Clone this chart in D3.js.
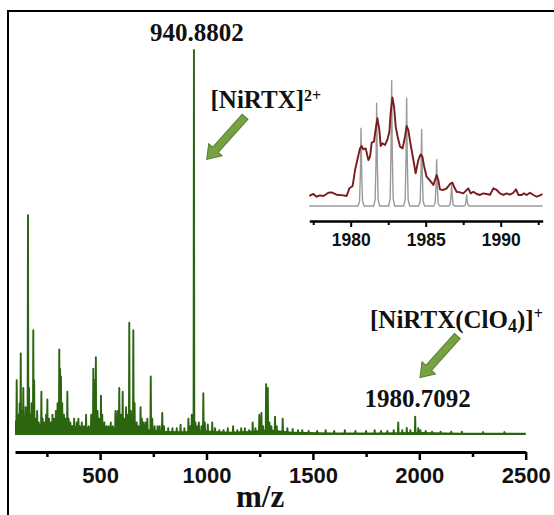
<!DOCTYPE html>
<html>
<head>
<meta charset="utf-8">
<script src="https://cdn.jsdelivr.net/npm/d3@7"></script>
<style>
  body { margin: 0; background: #fff; }
  svg { display: block; }
  .tk text { font-family: "Liberation Sans", Arial, sans-serif; font-weight: bold; fill: #111; }
  .lbl { font-family: "Liberation Serif", "Times New Roman", serif; font-weight: bold; fill: #111; }
</style>
</head>
<body>
<div id="chart"></div>
<script>
// main spectrum peaks (m/z, relative intensity %)
var peakMz  = [108, 116, 122, 127, 133, 139, 145, 150, 161, 166, 172, 178, 186, 190, 196, 204, 212, 224, 230, 238,
               246, 252, 260, 268, 276, 284, 292, 300, 308, 312, 316, 322, 330, 337, 346, 352, 360, 370, 378, 390,
               398, 404, 414, 424, 434, 446, 458, 468, 474, 480, 488, 494, 504, 510, 520, 530, 540, 550, 560, 572,
               582, 590, 598, 606, 614, 622, 630, 637, 645, 656, 662, 672, 680, 690, 696, 704, 714, 722, 738, 745,
               756, 770, 780, 792, 800, 820, 840, 860, 878, 896, 915, 924, 931, 940.88, 948, 956, 964, 976, 985, 992,
               1006, 1027, 1040, 1060, 1080, 1100, 1125, 1145, 1163, 1180, 1200, 1217, 1230, 1248, 1258, 1266, 1280, 1288, 1296, 1305,
               1322, 1330, 1358, 1380, 1405, 1430, 1450, 1480, 1520, 1560, 1600, 1650, 1700, 1750, 1790, 1820, 1850, 1880, 1901, 1920,
               1941, 1958, 1980.71, 1995, 2005, 2030, 2060, 2100, 2150, 2200, 2300, 2400];
var peakInt = [14, 5, 8, 21, 6, 12, 4, 7, 57, 12, 5, 8, 27, 14, 4, 6, 3, 11, 4, 3,
               5, 9, 4, 3, 5, 4, 6, 8, 22, 17, 15, 8, 5, 4, 11, 4, 3, 2, 4, 3,
               4, 2, 3, 2, 5, 2, 5, 17, 14, 20, 6, 4, 10, 5, 3, 2, 2, 3, 2, 6,
               6, 12, 5, 11, 4, 7, 5, 29, 6, 27, 8, 3, 2, 7, 4, 3, 3, 4, 15, 4,
               2, 2, 2, 5.5, 2, 1.5, 1.5, 1.5, 2.4, 1.5, 4, 2, 5, 100, 3, 2, 3, 2, 10.6, 3,
               2.5, 3, 1.5, 1, 1, 1.5, 2, 1, 1.5, 1.5, 1, 3, 1.5, 5, 5.5, 2, 13, 12, 3, 2,
               4.5, 2, 4, 1.5, 1.3, 1, 1, 0.8, 0.8, 1, 0.8, 1, 0.8, 0.8, 1, 0.8, 0.8, 1, 3, 1,
               1.6, 1, 4.5, 1.5, 1, 0.8, 0.6, 0.6, 0.6, 0.6, 0.5, 0.5];
// noise floor under the spectrum
var floorMz  = [100, 150, 200, 260, 320, 380, 440, 500, 560, 620, 680, 740, 800, 900, 1000, 1100, 1200, 1300, 1400, 1600, 1800, 2000, 2200, 2500];
var floorInt = [3.5, 3, 2.5, 2.2, 3, 2, 1.8, 2.5, 1.5, 2, 1.5, 1.2, 0.8, 0.7, 0.9, 0.6, 0.8, 1.2, 0.6, 0.4, 0.4, 0.5, 0.3, 0.3];

// inset: simulated isotope pattern (grey) and experimental (red)
var isoMz  = [1980.69, 1981.73, 1982.73, 1983.73, 1984.73, 1985.73, 1986.73, 1987.73];
var isoInt = [62, 82, 100, 86, 61, 37, 18, 9];
var expMz  = [1977.24, 1977.51, 1977.73, 1977.95, 1978.18, 1978.51, 1978.73, 1979.06, 1979.51, 1979.73, 1979.91, 1980.13,
              1980.29, 1980.44, 1980.62, 1980.73, 1980.84, 1981.00, 1981.18, 1981.29, 1981.40, 1981.55, 1981.69, 1981.78,
              1981.91, 1982.00, 1982.11, 1982.29, 1982.44, 1982.58, 1982.66, 1982.78, 1982.89, 1983.00, 1983.13, 1983.29,
              1983.46, 1983.62, 1983.73, 1983.84, 1984.00, 1984.18, 1984.33, 1984.51, 1984.66, 1984.78, 1984.89, 1985.06,
              1985.29, 1985.51, 1985.73, 1985.84, 1985.95, 1986.18, 1986.40, 1986.62, 1986.78, 1986.89, 1987.06, 1987.29,
              1987.51, 1987.84, 1988.00, 1988.18, 1988.40, 1988.62, 1988.84, 1989.06, 1989.29, 1989.51, 1989.73, 1989.95,
              1990.18, 1990.40, 1990.62, 1990.84, 1991.02, 1991.18, 1991.40, 1991.55, 1991.73, 1991.95, 1992.18, 1992.40,
              1992.62, 1992.78];
var expInt = [8.0, 9.6, 7.4, 8.5, 8.0, 10.6, 10.9, 9.0, 8.5, 8.0, 14.1, 16.0,
              28.7, 36.7, 46.0, 47.9, 45.2, 46.0, 36.7, 39.4, 50.5, 51.3, 63.3, 70.0,
              60.7, 47.9, 50.0, 48.7, 52.7, 59.3, 74.0, 86.7, 79.3, 63.3, 55.3, 47.4,
              46.0, 55.3, 63.8, 60.7, 48.7, 36.7, 26.1, 36.7, 41.2, 39.4, 31.9, 23.4,
              20.2, 16.8, 24.7, 20.8, 13.3, 12.8, 14.1, 17.6, 18.6, 15.4, 11.4, 10.9,
              10.1, 14.1, 10.1, 11.4, 9.6, 8.8, 10.1, 9.6, 9.0, 14.1, 12.8, 10.1,
              8.8, 10.1, 9.0, 10.6, 13.3, 8.8, 8.8, 10.1, 8.8, 10.6, 8.8, 7.4,
              8.5, 9.6];

var mainTicks = [500, 1000, 1500, 2000, 2500];
var mainMinor = [250, 750, 1250, 1750, 2250];
var insetTicks = [1980, 1985, 1990];
var insetMinor = [1977.5, 1982.5, 1987.5, 1992.5];

var W = 554, H = 515;
var svg = d3.select("#chart").append("svg").attr("width", W).attr("height", H);

// frame (right and bottom edges fall outside the picture)
svg.append("rect").attr("x", 8).attr("y", 11).attr("width", 700).attr("height", 700)
   .attr("fill", "none").attr("stroke", "#000").attr("stroke-width", 2);

var x = d3.scaleLinear().domain([100, 2500]).range([15, 525.7]);
var y = d3.scaleLinear().domain([0, 100]).range([434, 50]);

var green = "#2b6510";

// noise floor
svg.append("path")
   .datum(floorMz.map(function(m, i) { return [m, floorInt[i]]; }))
   .attr("fill", green)
   .attr("d", d3.area().x(function(d) { return x(d[0]); }).y0(y(0)).y1(function(d) { return y(d[1]); }));

// spectrum as one line, each peak a narrow spike
var pts = [[100, 0]];
peakMz.forEach(function(m, i) {
    pts.push([m - 1.8, 0], [m, peakInt[i]], [m + 1.8, 0]);
});
pts.push([2500, 0]);
svg.append("path").datum(pts)
   .attr("fill", "none").attr("stroke", green).attr("stroke-width", 1.9).attr("stroke-linejoin", "round")
   .attr("d", d3.line().x(function(d) { return x(d[0]); }).y(function(d) { return y(d[1]); }));

// main x axis
var axY = 452;
var ax = svg.append("g").attr("class", "tk").attr("transform", "translate(0," + axY + ")")
   .call(d3.axisBottom(x).tickValues(mainTicks).tickFormat(d3.format("d")).tickSize(8).tickSizeOuter(0).tickPadding(7));
ax.select(".domain").attr("stroke-width", 3);
ax.selectAll(".tick line").attr("stroke-width", 2.5);
ax.selectAll("text").style("font-size", "22px");
var axm = svg.append("g").attr("transform", "translate(0," + axY + ")")
   .call(d3.axisBottom(x).tickValues(mainMinor).tickSize(5).tickSizeOuter(0).tickFormat(""));
axm.select(".domain").remove();
axm.selectAll(".tick line").attr("stroke-width", 2.5);

svg.append("text").attr("class", "lbl").attr("x", 236).attr("y", 507)
   .style("font-size", "31px").text("m/z");

// peak labels
svg.append("text").attr("class", "lbl").attr("text-anchor", "middle")
   .attr("x", x(940.88) + 3).attr("y", 41).style("font-size", "25px").text("940.8802");
svg.append("text").attr("class", "lbl").attr("text-anchor", "middle")
   .attr("x", x(1980.71) + 2.5).attr("y", 407).style("font-size", "25px").text("1980.7092");

var t1 = svg.append("text").attr("class", "lbl").attr("x", 210.5).attr("y", 108).style("font-size", "25px");
t1.append("tspan").text("[NiRTX]");
t1.append("tspan").attr("dy", -7).style("font-size", "16px").text("2+");

var t2 = svg.append("text").attr("class", "lbl").attr("x", 370).attr("y", 327.5).style("font-size", "25px");
t2.append("tspan").text("[NiRTX(ClO");
t2.append("tspan").attr("dy", 4.5).style("font-size", "18px").text("4");
t2.append("tspan").attr("dy", -4.5).text(")]");
t2.append("tspan").attr("dy", -9).style("font-size", "16px").text("+");

// block arrows, given as (m/z, %) for tail and tip
var arrows = [
    {from: [1180.9, 82.6], to: [1000.9, 71.5]},
    {from: [2178.6, 25.5], to: [2003.3, 14.7]}
];
arrows.forEach(function(a) {
    var x0 = x(a.from[0]), y0 = y(a.from[1]), x1 = x(a.to[0]), y1 = y(a.to[1]);
    var L = Math.sqrt((x1 - x0) * (x1 - x0) + (y1 - y0) * (y1 - y0));
    var ang = Math.atan2(y1 - y0, x1 - x0) * 180 / Math.PI;
    var hl = 13, sw = 3.8, hw = 9;
    var shape = [[0, -sw], [L - hl, -sw], [L - hl, -hw], [L, 0], [L - hl, hw], [L - hl, sw], [0, sw]];
    svg.append("polygon")
       .attr("points", shape.map(function(p) { return p.join(","); }).join(" "))
       .attr("transform", "translate(" + x0 + "," + y0 + ") rotate(" + ang + ")")
       .attr("fill", "#77a243").attr("stroke", "#557f2c").attr("stroke-width", 1);
});

// ---- inset ----
var xi = d3.scaleLinear().domain([1977.24, 1992.8]).range([309.3, 542.7]);
var yi = d3.scaleLinear().domain([0, 100]).range([206, 80.7]);

var grey = [[1977.24, 0]];
isoMz.forEach(function(m, i) {
    var h = isoInt[i];
    grey.push([m - 0.2, 0], [m - 0.1, h * 0.06], [m - 0.04, h * 0.45], [m, h],
              [m + 0.04, h * 0.45], [m + 0.1, h * 0.06], [m + 0.2, 0]);
});
grey.push([1992.8, 0]);
svg.append("path").datum(grey)
   .attr("fill", "none").attr("stroke", "#9a9a9a").attr("stroke-width", 1.4).attr("stroke-linejoin", "round")
   .attr("d", d3.line().x(function(d) { return xi(d[0]); }).y(function(d) { return yi(d[1]); }));

svg.append("path").datum(expMz.map(function(m, i) { return [m, expInt[i]]; }))
   .attr("fill", "none").attr("stroke", "#7a1a1c").attr("stroke-width", 1.9).attr("stroke-linejoin", "round")
   .attr("d", d3.line().x(function(d) { return xi(d[0]); }).y(function(d) { return yi(d[1]); }));

var axiY = 221;
var axi = svg.append("g").attr("class", "tk").attr("transform", "translate(0," + axiY + ")")
   .call(d3.axisBottom(xi).tickValues(insetTicks).tickFormat(d3.format("d")).tickSize(6).tickSizeOuter(0).tickPadding(7));
axi.select(".domain").attr("stroke-width", 2.5);
axi.selectAll(".tick line").attr("stroke-width", 2);
axi.selectAll("text").style("font-size", "17.5px");
var axim = svg.append("g").attr("transform", "translate(0," + axiY + ")")
   .call(d3.axisBottom(xi).tickValues(insetMinor).tickSize(4).tickSizeOuter(0).tickFormat(""));
axim.select(".domain").remove();
axim.selectAll(".tick line").attr("stroke-width", 2);
</script>
</body>
</html>
